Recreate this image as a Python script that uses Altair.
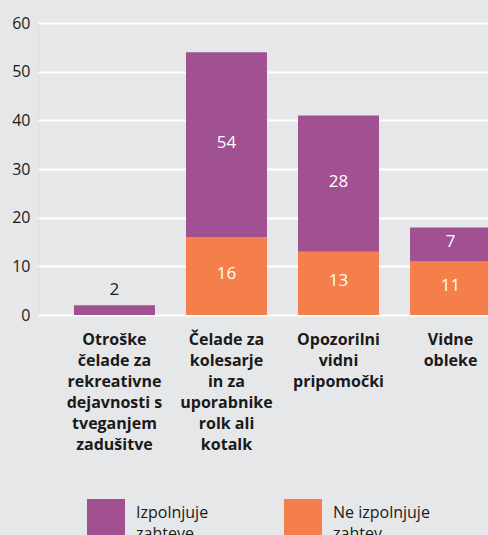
import altair as alt
import pandas as pd

categories = [
    "Otroške|čelade za|rekreativne|dejavnosti s|tveganjem|zadušitve",
    "Čelade za|kolesarje|in za|uporabnike|rolk ali|kotalk",
    "Opozorilni|vidni|pripomočki",
    "Vidne|obleke",
]
series = ["Izpolnjuje|zahteve", "Ne izpolnjuje|zahtev"]
complies = [2, 38, 28, 7]
complies_labels = ["2", "54", "28", "7"]
not_complies = [0, 16, 13, 11]
not_complies_labels = ["", "16", "13", "11"]
y_ticks = [0, 10, 20, 30, 40, 50, 60]

PURPLE = "#a15092"
ORANGE = "#f47f4a"
BG = "#e6e7e9"
FONT = "Open Sans"

rows = []
for i, c in enumerate(categories):
    rows.append({"cat": c, "series": series[1], "value": not_complies[i],
                 "label": not_complies_labels[i], "ord": 0})
    rows.append({"cat": c, "series": series[0], "value": complies[i],
                 "label": complies_labels[i], "ord": 1})
df = pd.DataFrame(rows)

x_enc = alt.X(
    "cat:N", sort=categories, title=None,
    scale=alt.Scale(range=[0, 489], paddingInner=0.277, paddingOuter=0.321),
    axis=alt.Axis(labelExpr="split(datum.label, '|')", labelAngle=0,
                  labelFont=FONT, labelFontSize=16, labelFontWeight="bold",
                  labelColor="#1a1a1a", labelLineHeight=21, labelBaseline="top",
                  labelPadding=16, domain=False, ticks=False, grid=False,
                  labelLimit=200),
)

base = alt.Chart(df).transform_stack(
    stack="value", groupby=["cat"], as_=["y0", "y1"],
    sort=[alt.SortField("ord", order="ascending")],
).transform_calculate(mid="(datum.y0 + datum.y1) / 2")

bars = base.mark_bar().encode(
    x=x_enc,
    y=alt.Y("y0:Q", title=None,
            scale=alt.Scale(domain=[0, 60], nice=False),
            axis=alt.Axis(values=y_ticks, grid=True, gridColor="white", gridWidth=2,
                          domain=False, ticks=False, labelFont=FONT, labelFontSize=16,
                          labelColor="#1a1a1a", labelPadding=8)),
    y2="y1:Q",
    color=alt.Color("series:N", scale=alt.Scale(domain=series, range=[PURPLE, ORANGE]),
                    legend=alt.Legend(title=None, orient="none", legendX=49, legendY=476,
                                      direction="horizontal", symbolType="square",
                                      symbolSize=1444, symbolStrokeWidth=0,
                                      labelExpr="split(datum.label, '|')",
                                      labelBaseline="alphabetic",
                                      labelFont=FONT, labelFontSize=16, labelColor="#1a1a1a",
                                      labelOffset=11, labelLimit=200, columnPadding=75)),
)

inside = base.transform_filter("datum.value >= 5").mark_text(
    color="white", font=FONT, fontSize=17, dy=-2
).encode(x=alt.X("cat:N", sort=categories), y="mid:Q", text="label:N")

outside = base.transform_filter("datum.value > 0 && datum.value < 5").mark_text(
    color="#1a1a1a", font=FONT, fontSize=17, dy=-15
).encode(x=alt.X("cat:N", sort=categories), y="y1:Q", text="label:N")

chart = alt.layer(bars, inside, outside).properties(
    width=450, height=292,
    background=BG,
    padding={"left": 38, "top": 23, "right": 0, "bottom": 220},
    autosize=alt.AutoSizeParams(type="none"),
).configure_view(stroke=None, fill=BG).configure(
    style={"guide-label": {"lineHeight": 21}}
)

chart.save("out.html", embed_options={"renderer": "svg", "actions": False})
